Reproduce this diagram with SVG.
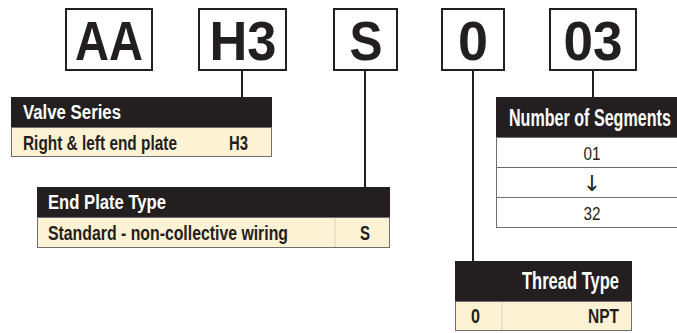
<svg xmlns="http://www.w3.org/2000/svg" width="677" height="333" viewBox="0 0 677 333">
<style>
.code{fill:#fff;stroke:#231f20;stroke-width:2}
.codetxt{font-family:"Liberation Sans",Arial,sans-serif;font-weight:bold;font-size:56px;fill:#231f20;text-anchor:middle}
.hdr{fill:#231f20}
.row{fill:#fef2d5;stroke:#6d6e71;stroke-width:1}
.seg{fill:#fff;stroke:#6d6e71;stroke-width:1}
.div{stroke:#d9d2c0;stroke-width:1}
.ht{font-family:"Liberation Sans",Arial,sans-serif;font-weight:bold;fill:#fff}
.rt{font-family:"Liberation Sans",Arial,sans-serif;font-weight:bold;fill:#231f20;font-size:20px}
.nt{font-family:"Liberation Sans",Arial,sans-serif;fill:#231f20;font-size:18px;text-anchor:middle}
.arrow{font-family:"DejaVu Sans",sans-serif;fill:#231f20;font-size:22px;text-anchor:middle}
.conn{stroke:#231f20;stroke-width:2;fill:none}
</style>
<g id="connectors">
<line class="conn" x1="242" y1="70" x2="242" y2="97"/>
<line class="conn" x1="365" y1="70" x2="365" y2="187"/>
<line class="conn" x1="473" y1="70" x2="473" y2="261"/>
<line class="conn" x1="593" y1="70" x2="593" y2="97"/>
</g>
<g id="code-AA">
<rect class="code" x="66" y="9" width="86" height="61"/>
<text class="codetxt" x="109" y="60" textLength="68" lengthAdjust="spacingAndGlyphs">AA</text>
</g>
<g id="code-H3">
<rect class="code" x="199" y="9" width="87" height="61"/>
<text class="codetxt" x="243" y="60" textLength="67" lengthAdjust="spacingAndGlyphs">H3</text>
</g>
<g id="code-S">
<rect class="code" x="334" y="9" width="63" height="61"/>
<text class="codetxt" x="366" y="60" textLength="33" lengthAdjust="spacingAndGlyphs">S</text>
</g>
<g id="code-0">
<rect class="code" x="442" y="9" width="62" height="61"/>
<text class="codetxt" x="473" y="60" textLength="30" lengthAdjust="spacingAndGlyphs">0</text>
</g>
<g id="code-03">
<rect class="code" x="550" y="9" width="86" height="61"/>
<text class="codetxt" x="593" y="60" textLength="59" lengthAdjust="spacingAndGlyphs">03</text>
</g>
<g id="valve-series">
<rect class="hdr" x="11" y="97" width="261" height="30"/>
<text class="ht" x="23" y="119" font-size="20" textLength="98" lengthAdjust="spacingAndGlyphs">Valve Series</text>
<rect class="row" x="11.5" y="127.5" width="260" height="29"/>
<text class="rt" x="23" y="150" textLength="154" lengthAdjust="spacingAndGlyphs">Right &amp; left end plate</text>
<text class="rt" x="229" y="150" textLength="19" lengthAdjust="spacingAndGlyphs">H3</text>
</g>
<g id="end-plate-type">
<rect class="hdr" x="37" y="187" width="353" height="30"/>
<text class="ht" x="48" y="209" font-size="20" textLength="118" lengthAdjust="spacingAndGlyphs">End Plate Type</text>
<rect class="row" x="37.5" y="217.5" width="352" height="30"/>
<line class="div" x1="335" y1="218" x2="335" y2="247"/>
<text class="rt" x="48" y="240" textLength="240" lengthAdjust="spacingAndGlyphs">Standard - non-collective wiring</text>
<text class="rt" x="360" y="240" textLength="10" lengthAdjust="spacingAndGlyphs">S</text>
</g>
<g id="thread-type">
<rect class="hdr" x="455" y="261" width="177" height="40"/>
<text class="ht" x="619" y="289" font-size="23" text-anchor="end" textLength="97" lengthAdjust="spacingAndGlyphs">Thread Type</text>
<rect class="row" x="455.5" y="301.5" width="176" height="29"/>
<line class="div" x1="502" y1="302" x2="502" y2="330"/>
<text class="rt" x="471" y="323" textLength="9" lengthAdjust="spacingAndGlyphs">0</text>
<text class="rt" x="619" y="323" text-anchor="end" textLength="31" lengthAdjust="spacingAndGlyphs">NPT</text>
</g>
<g id="number-of-segments">
<rect class="hdr" x="496" y="97" width="181" height="40"/>
<text class="ht" transform="translate(509,126) scale(0.7,1)" x="0" y="0" font-size="23">Number of Segments</text>
<rect class="seg" x="496.5" y="137.5" width="181" height="30"/>
<rect class="seg" x="496.5" y="167.5" width="181" height="30"/>
<rect class="seg" x="496.5" y="197.5" width="181" height="30"/>
<text class="nt" x="592" y="160" textLength="17" lengthAdjust="spacingAndGlyphs">01</text>
<text class="arrow" x="592" y="191">↓</text>
<text class="nt" x="592" y="220" textLength="17" lengthAdjust="spacingAndGlyphs">32</text>
</g>
</svg>
